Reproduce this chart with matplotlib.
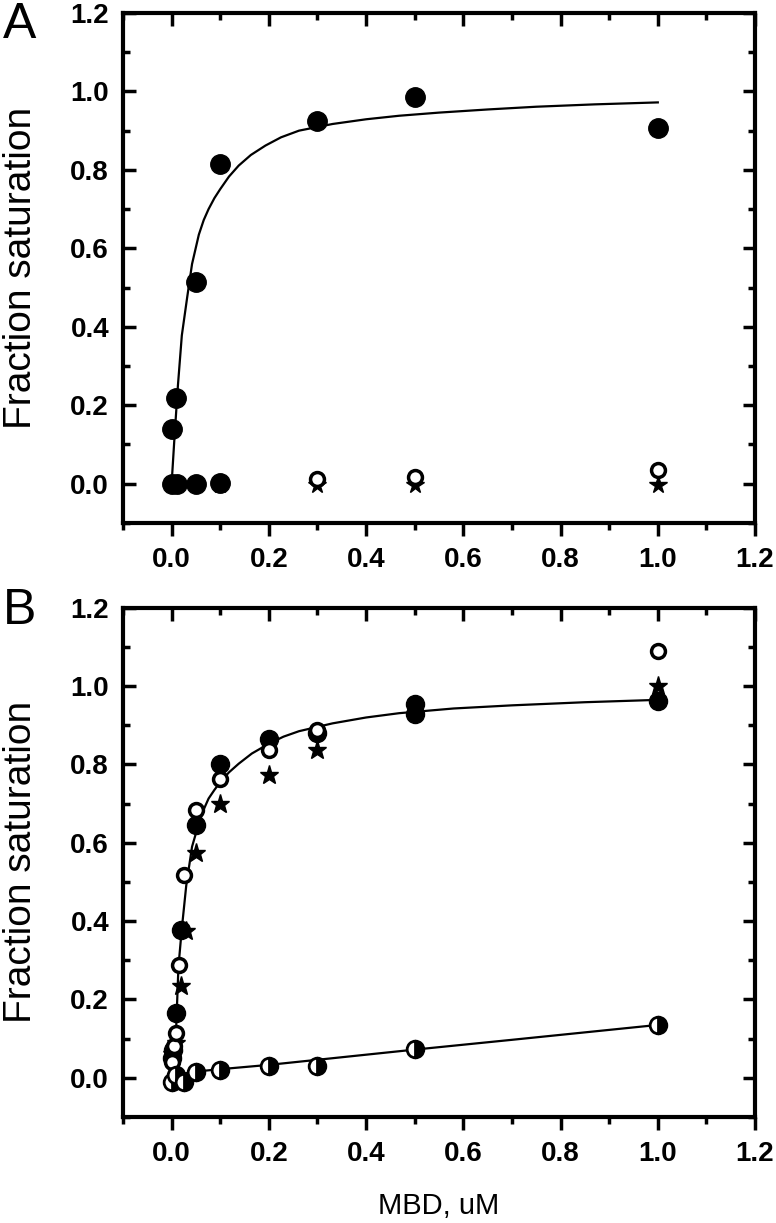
import numpy as np
import matplotlib.pyplot as plt
from matplotlib.ticker import MultipleLocator, FormatStrFormatter

plt.rcParams['font.family'] = ['Liberation Sans', 'DejaVu Sans']

# ---- Panel A data ----
a_filled_x = [0.0, 0.01, 0.05, 0.1, 0.3, 0.5, 1.0]
a_filled_y = [0.14, 0.218, 0.514, 0.815, 0.925, 0.987, 0.908]
a_filled0_x = [0.0, 0.012, 0.05, 0.1]
a_filled0_y = [0.0, 0.0, 0.0, 0.003]
a_open_x = [0.0, 0.01, 0.05, 0.1, 0.3, 0.5, 1.0]
a_open_y = [0.0, 0.0, 0.0, 0.005, 0.012, 0.016, 0.036]
a_star_x = [0.0, 0.01, 0.05, 0.1, 0.3, 0.5, 1.0]
a_star_y = [0.0, 0.0, 0.0, -0.002, -0.002, -0.002, -0.002]
# fitted curve
a_fit_x = [0.0, 0.006, 0.013, 0.021, 0.032, 0.042, 0.056, 0.066, 0.076, 0.088,
           0.1, 0.118, 0.138, 0.163, 0.193, 0.225, 0.262, 0.331, 0.4, 0.468,
           0.55, 0.65, 0.75, 0.87, 1.0]
a_fit_y = [0.0, 0.12, 0.251, 0.378, 0.475, 0.56, 0.635, 0.672, 0.70, 0.728,
           0.751, 0.783, 0.811, 0.838, 0.862, 0.883, 0.90, 0.917, 0.929, 0.938,
           0.946, 0.954, 0.961, 0.967, 0.972]

# ---- Panel B data ----
b_filled_x = [0.0, 0.003, 0.01, 0.02, 0.05, 0.1, 0.2, 0.3, 0.5, 0.5, 1.0]
b_filled_y = [0.05, 0.07, 0.165, 0.377, 0.645, 0.802, 0.865, 0.88, 0.955, 0.93, 0.963]
b_open_x = [0.0, 0.004, 0.008, 0.015, 0.025, 0.05, 0.1, 0.2, 0.3, 1.0]
b_open_y = [0.04, 0.08, 0.114, 0.288, 0.517, 0.683, 0.764, 0.836, 0.887, 1.09]
b_star_x = [0.0, 0.01, 0.02, 0.03, 0.05, 0.1, 0.2, 0.3, 1.0]
b_star_y = [0.06, 0.09, 0.235, 0.375, 0.575, 0.70, 0.772, 0.836, 1.0]
b_half_x = [0.0, 0.01, 0.025, 0.05, 0.1, 0.2, 0.3, 0.5, 1.0]
b_half_y = [-0.01, 0.008, -0.01, 0.016, 0.021, 0.029, 0.031, 0.074, 0.135]
b_fit_x = [0.0, 0.004, 0.009, 0.014, 0.021, 0.03, 0.042, 0.056, 0.066, 0.076,
           0.088, 0.1, 0.118, 0.138, 0.165, 0.2, 0.23, 0.262, 0.331, 0.4,
           0.468, 0.58, 0.7, 0.85, 1.0]
b_fit_y = [0.0, 0.05, 0.114, 0.283, 0.381, 0.49, 0.59, 0.65, 0.685, 0.713,
           0.735, 0.755, 0.78, 0.802, 0.828, 0.853, 0.871, 0.885, 0.905, 0.92,
           0.931, 0.943, 0.951, 0.959, 0.965]
b_low_x = [0.0, 0.01, 0.05, 0.1, 0.2, 0.3, 0.5, 0.7, 1.0]
b_low_y = [0.0, 0.008, 0.016, 0.022, 0.033, 0.046, 0.072, 0.097, 0.135]

fig = plt.figure(figsize=(7.76, 12.23), dpi=100)
axA = fig.add_axes([0.1585, 0.5724, 0.8145, 0.4170])
axB = fig.add_axes([0.1585, 0.0867, 0.8145, 0.4163])


def style_axes(ax):
    ax.set_xlim(-0.1, 1.2)
    ax.set_ylim(-0.1, 1.2)
    for s in ax.spines.values():
        s.set_linewidth(3)
    ax.spines['top'].set_visible(False)
    ax.xaxis.set_major_locator(MultipleLocator(0.2))
    ax.xaxis.set_minor_locator(MultipleLocator(0.1))
    ax.yaxis.set_major_locator(MultipleLocator(0.2))
    ax.yaxis.set_minor_locator(MultipleLocator(0.1))
    ax.xaxis.set_major_formatter(FormatStrFormatter('%.1f'))
    ax.yaxis.set_major_formatter(FormatStrFormatter('%.1f'))
    ax.tick_params(axis='x', which='major', direction='out', length=9, width=2.5,
                   pad=8, labelsize=20)
    ax.tick_params(axis='x', which='minor', direction='out', length=5, width=2.5)
    ax.tick_params(axis='y', which='major', direction='in', length=9, width=2.5,
                   right=True, pad=10, labelsize=20)
    ax.tick_params(axis='y', which='minor', direction='in', length=5, width=2.5,
                   right=True)
    for lab in ax.get_xticklabels() + ax.get_yticklabels():
        lab.set_fontweight('bold')
    top = ax.secondary_xaxis('top')
    top.spines['top'].set_linewidth(3)
    top.xaxis.set_major_locator(MultipleLocator(0.2))
    top.xaxis.set_minor_locator(MultipleLocator(0.1))
    top.tick_params(which='major', direction='in', length=9, width=2.5, labeltop=False)
    top.tick_params(which='minor', direction='in', length=5, width=2.5)
    ax.set_ylabel('Fraction saturation', fontsize=28)
    ax.yaxis.set_label_coords(-0.133, 0.5)


style_axes(axA)
style_axes(axB)

# Panel A
axA.plot(a_fit_x, a_fit_y, color='black', lw=1.6, zorder=2)
axA.plot(a_star_x, a_star_y, '*', color='black', ms=13, zorder=3)
axA.plot(a_open_x, a_open_y, 'o', mfc='white', mec='black', mew=2.5, ms=10, zorder=4)
axA.plot(a_filled0_x, a_filled0_y, 'o', color='black', ms=14, zorder=5)
axA.plot(a_filled_x, a_filled_y, 'o', color='black', ms=14, zorder=5)

# Panel B
axB.plot(b_fit_x, b_fit_y, color='black', lw=1.6, zorder=2)
axB.plot(b_low_x, b_low_y, color='black', lw=1.6, zorder=2)
axB.plot(b_filled_x, b_filled_y, 'o', color='black', ms=13, zorder=3)
axB.plot(b_star_x, b_star_y, '*', color='black', ms=14, zorder=4)
axB.plot(b_open_x, b_open_y, 'o', mfc='white', mec='black', mew=2.5, ms=10, zorder=5)
axB.plot(b_half_x, b_half_y, 'o', fillstyle='right', mfc='black', mfcalt='white',
         mec='black', mew=2, ms=12, zorder=6)
axB.set_xlabel('MBD, uM', fontsize=21)
axB.xaxis.set_label_coords(0.5, -0.148)

fig.text(0.004, 0.998, 'A', fontsize=36, va='top', ha='left')
fig.text(0.004, 0.519, 'B', fontsize=36, va='top', ha='left')

fig.savefig('out.png', dpi=100)
